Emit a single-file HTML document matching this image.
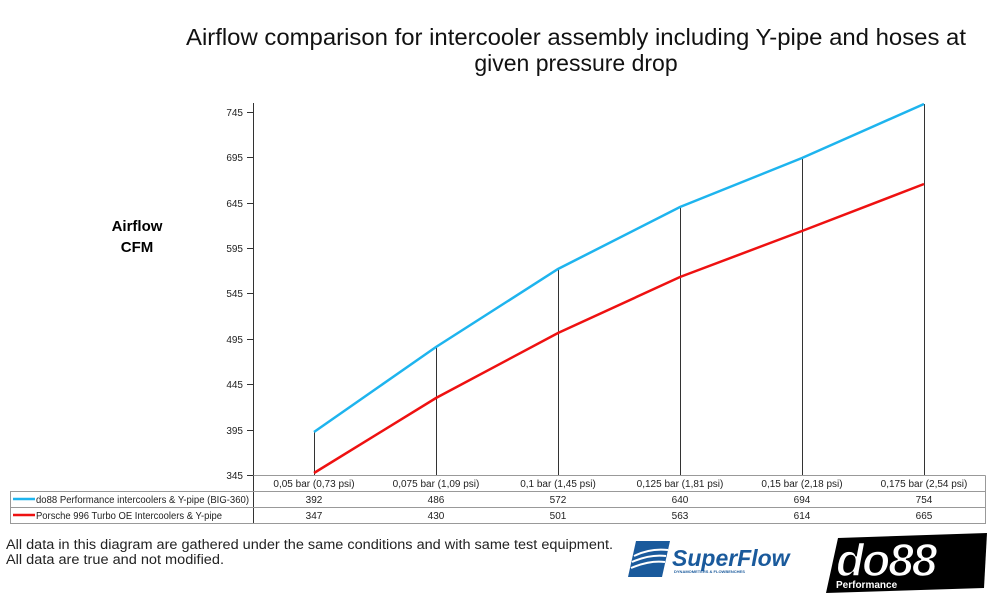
<!DOCTYPE html>
<html><head><meta charset="utf-8"><style>
body{margin:0;background:#fff;width:1000px;height:598px;overflow:hidden;font-family:"Liberation Sans","DejaVu Sans",sans-serif}
</style></head><body>
<svg width="1000" height="598" xmlns="http://www.w3.org/2000/svg" font-family="Liberation Sans, DejaVu Sans, sans-serif">
<text x="576" y="45" font-size="23" text-anchor="middle" fill="#111" textLength="780" lengthAdjust="spacingAndGlyphs">Airflow comparison for intercooler assembly including Y-pipe and hoses at</text>
<text x="576" y="71" font-size="23" text-anchor="middle" fill="#111">given pressure drop</text>
<text x="137" y="231" font-size="15" font-weight="bold" text-anchor="middle">Airflow</text>
<text x="137" y="252" font-size="15" font-weight="bold" text-anchor="middle">CFM</text>
<g stroke="#333" stroke-width="1">
<line x1="253.5" y1="103" x2="253.5" y2="523"/>
<line x1="247" y1="112.5" x2="253" y2="112.5"/><line x1="247" y1="157.5" x2="253" y2="157.5"/>
<line x1="247" y1="203.5" x2="253" y2="203.5"/><line x1="247" y1="248.5" x2="253" y2="248.5"/>
<line x1="247" y1="293.5" x2="253" y2="293.5"/><line x1="247" y1="339.5" x2="253" y2="339.5"/>
<line x1="247" y1="384.5" x2="253" y2="384.5"/><line x1="247" y1="430.5" x2="253" y2="430.5"/>
<line x1="247" y1="475.5" x2="253" y2="475.5"/>
<line x1="314.5" y1="475" x2="314.5" y2="432"/><line x1="436.5" y1="475" x2="436.5" y2="347"/>
<line x1="558.5" y1="475" x2="558.5" y2="269"/><line x1="680.5" y1="475" x2="680.5" y2="207"/>
<line x1="802.5" y1="475" x2="802.5" y2="158"/><line x1="924.5" y1="475" x2="924.5" y2="104"/>
</g>
<g font-size="10" text-anchor="end" fill="#222">
<text x="243" y="116">745</text><text x="243" y="161">695</text><text x="243" y="207">645</text>
<text x="243" y="252">595</text><text x="243" y="297">545</text><text x="243" y="343">495</text>
<text x="243" y="388">445</text><text x="243" y="434">395</text><text x="243" y="479">345</text>
</g>
<polyline fill="none" stroke="#1eb4ee" stroke-width="2.5" points="314,432 436,347 558,269 680,207 802,158 924,104"/>
<polyline fill="none" stroke="#ee1111" stroke-width="2.5" points="314,473 436,398 558,333 680,277 802,231 924,184"/>
<g stroke="#999" stroke-width="1" fill="none">
<rect x="10.5" y="491.5" width="975" height="32"/>
<line x1="253.5" y1="475.5" x2="985.5" y2="475.5"/>
<line x1="985.5" y1="475.5" x2="985.5" y2="491.5"/>
<line x1="10.5" y1="507.5" x2="985.5" y2="507.5"/>
</g>
<line x1="13" y1="499" x2="35" y2="499" stroke="#1eb4ee" stroke-width="2.5"/>
<line x1="13" y1="515" x2="35" y2="515" stroke="#ee1111" stroke-width="2.5"/>
<g font-size="10" fill="#222">
<text x="36" y="503" textLength="213" lengthAdjust="spacingAndGlyphs">do88 Performance intercoolers &amp; Y-pipe (BIG-360)</text>
<text x="36" y="519" textLength="186" lengthAdjust="spacingAndGlyphs">Porsche 996 Turbo OE Intercoolers &amp; Y-pipe</text>
</g>
<g font-size="10" fill="#222" text-anchor="middle">
<text x="314" y="487">0,05 bar (0,73 psi)</text><text x="436" y="487">0,075 bar (1,09 psi)</text>
<text x="558" y="487">0,1 bar (1,45 psi)</text><text x="680" y="487">0,125 bar (1,81 psi)</text>
<text x="802" y="487">0,15 bar (2,18 psi)</text><text x="924" y="487">0,175 bar (2,54 psi)</text>
<text x="314" y="503">392</text><text x="436" y="503">486</text><text x="558" y="503">572</text>
<text x="680" y="503">640</text><text x="802" y="503">694</text><text x="924" y="503">754</text>
<text x="314" y="519">347</text><text x="436" y="519">430</text><text x="558" y="519">501</text>
<text x="680" y="519">563</text><text x="802" y="519">614</text><text x="924" y="519">665</text>
</g>
<g font-size="13.5" fill="#222">
<text x="6" y="549" textLength="607" lengthAdjust="spacingAndGlyphs">All data in this diagram are gathered under the same conditions and with same test equipment.</text>
<text x="6" y="564" textLength="218" lengthAdjust="spacingAndGlyphs">All data are true and not modified.</text>
</g>
<polygon points="636,541 670,541 662,577 628,577" fill="#1a5a9c"/>
<path d="M634,556 Q650,548 668,550 M632,562 Q650,554 666,556 M631,568 Q650,560 665,562" stroke="#fff" stroke-width="2" fill="none"/>
<text x="672" y="566" font-size="23" font-weight="bold" font-style="italic" fill="#1a5a9c">SuperFlow</text>
<text x="674" y="573" font-size="4" font-weight="bold" fill="#1a5a9c">DYNAMOMETERS &amp; FLOWBENCHES</text>
<polygon points="838,538 987,533 984,588 826,593" fill="#000"/>
<text x="836" y="576" font-size="46" font-weight="bold" font-style="italic" fill="#fff" stroke="#000" stroke-width="1.5" letter-spacing="-2">do88</text>
<text x="836" y="588" font-size="10" font-weight="bold" fill="#fff">Performance</text>
</svg>
</body></html>
